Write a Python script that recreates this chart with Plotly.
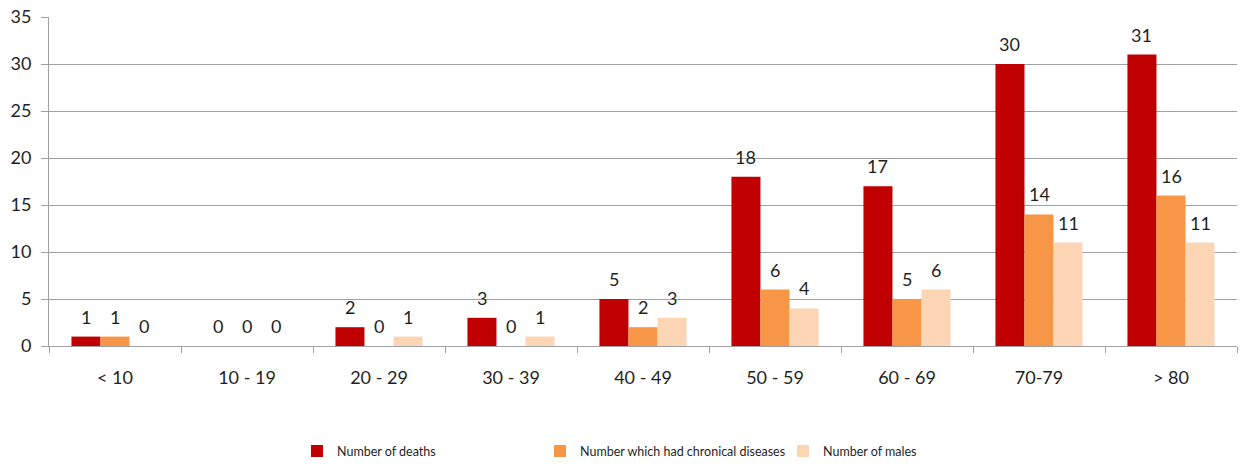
import plotly.graph_objects as go

categories = ["< 10", "10 - 19", "20 - 29", "30 - 39", "40 - 49", "50 - 59", "60 - 69", "70-79", "> 80"]
deaths = [1, 0, 2, 3, 5, 18, 17, 30, 31]
chronic = [1, 0, 0, 0, 2, 6, 5, 14, 16]
males = [0, 0, 1, 1, 3, 4, 6, 11, 11]

series = [
    ("Number of deaths", deaths, "#C00000"),
    ("Number which had chronical diseases", chronic, "#F79646"),
    ("Number of males", males, "#FCD5B5"),
]

FONT = "Lato, Carlito, 'Liberation Sans', sans-serif"
W, H = 1240, 464
ML, MR, MT, MB = 49, 3, 17, 118
BARGAP = 0.34

fig = go.Figure()
for name, vals, color in series:
    fig.add_trace(go.Bar(
        name=name, x=categories, y=vals,
        marker=dict(color=color, line=dict(width=0)),
    ))

# data labels placed above each bar (offsets derived from the bar geometry)
plot_w = W - ML - MR
cat_px = plot_w / len(categories)
bar_px = cat_px * (1 - BARGAP) / len(series)
annotations = []
for i, (name, vals, color) in enumerate(series):
    off = (i - (len(series) - 1) / 2) * bar_px
    for c, v in zip(categories, vals):
        annotations.append(dict(
            x=c, y=v, xref="x", yref="y", text=str(v), showarrow=False,
            xanchor="center", yanchor="bottom", xshift=off, yshift=7,
            font=dict(family=FONT, size=18, color="#1f1f1f"),
        ))

fig.update_layout(
    width=W, height=H,
    margin=dict(l=ML, r=MR, t=MT, b=MB, autoexpand=False),
    paper_bgcolor="white", plot_bgcolor="white",
    barmode="group", bargap=BARGAP, bargroupgap=0,
    font=dict(family=FONT, size=18, color="#1f1f1f"),
    showlegend=True,
    legend=dict(
        orientation="h", x=(297 - ML) / plot_w, xanchor="left", y=-0.275, yanchor="top",
        font=dict(family=FONT, size=12.5, color="#1f1f1f"),
        entrywidth=198, entrywidthmode="pixels",
        itemwidth=30,
    ),
    annotations=annotations,
)
fig.update_xaxes(
    showline=True, linecolor="#a0a0a0", linewidth=1,
    ticks="outside", tickson="boundaries", ticklen=6, tickcolor="#a0a0a0",
    tickfont=dict(family=FONT, size=18, color="#1f1f1f"),
    ticklabelstandoff=15,
    showgrid=False,
)
fig.update_yaxes(
    range=[0, 35], dtick=5, tick0=0,
    showline=True, linecolor="#a0a0a0", linewidth=1,
    ticks="outside", ticklen=7, tickcolor="#a0a0a0",
    ticklabelstandoff=6,
    showgrid=True, gridcolor="#a0a0a0", gridwidth=1,
    zeroline=False,
    tickfont=dict(family=FONT, size=18, color="#1f1f1f"),
)

fig.write_html(
    "out.html",
    config={"displayModeBar": False},
    post_script="document.body.style.margin='0';document.body.style.overflow='hidden';",
)
